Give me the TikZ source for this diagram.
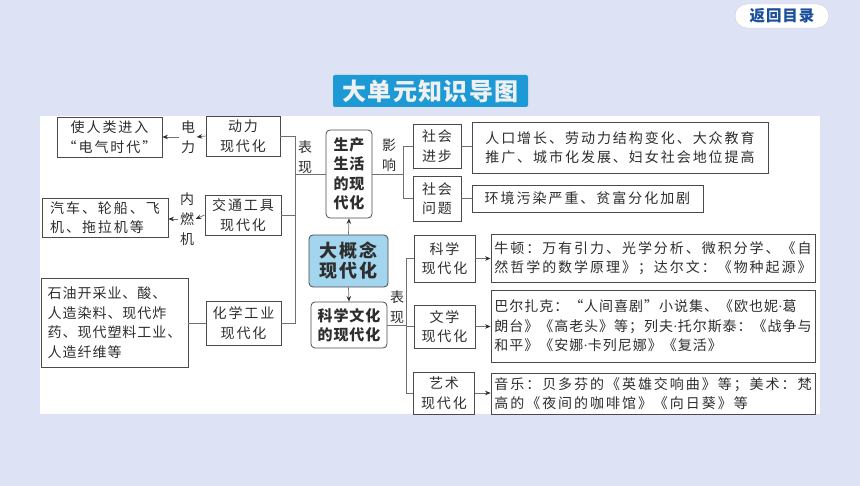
\documentclass[tikz,border=0pt]{standalone}
\usepackage{fontspec}
\usepackage{tikz}
\usetikzlibrary{arrows.meta}
\usepackage{xcolor}
\setmainfont{Noto Sans CJK SC}
\newfontfamily\cjk[LetterSpace=14]{Noto Sans CJK SC}
\newfontfamily\cjktight[LetterSpace=7]{Noto Sans CJK SC}
\newfontfamily\cjkkey[LetterSpace=6]{Noto Sans CJK SC}
\newfontfamily\cjkbig[LetterSpace=12]{Noto Sans CJK SC}
\newfontfamily\latindot{Liberation Serif}
\newcommand{\mdot}{{\latindot\textperiodcentered}}
\definecolor{pagebg}{HTML}{DDE3F4}
\definecolor{ink}{HTML}{2E2E2E}
\definecolor{boxline}{HTML}{4A4A4A}
\definecolor{linkgrey}{HTML}{707070}
\definecolor{keyblue}{HTML}{A3D6EE}
\definecolor{titleblue}{HTML}{1D9AD6}
\definecolor{navy}{HTML}{1B4F9C}
\tikzset{
  box/.style={draw=boxline,line width=0.8pt,fill=white,text=ink,inner sep=0pt,align=center,
    font=\cjk\fontsize{14}{19.5}\selectfont},
  tightbox/.style={box,align=left,font=\cjktight\fontsize{14}{19.5}\selectfont},
  keybox/.style={box,rounded corners=4pt,font=\cjkkey\bfseries\fontsize{15}{19.5}\selectfont},
  lbl/.style={text=ink,inner sep=1.5pt,align=center,font=\cjk\fontsize{14}{20}\selectfont},
  link/.style={draw=linkgrey,line width=0.7pt},
  arr/.style={link,-{Stealth[length=5.5pt,width=4.5pt,color=ink]}}
}

\begin{document}
\begin{tikzpicture}[x=1pt,y=-1pt]
\fill[pagebg] (0,0) rectangle (860,486);
\useasboundingbox (0,0) rectangle (860,486);
% return button and heading
\node[draw=black!20,fill=white,rounded corners=12pt,minimum width=94pt,minimum height=24pt,inner sep=0pt,
  text=navy,font=\cjkkey\bfseries\fontsize{15.5}{16}\selectfont] (back) at (782,16) {返回目录};
\node[fill=titleblue,rounded corners=2pt,minimum width=195pt,minimum height=32pt,inner sep=0pt,
  text=black!6,font=\cjkkey\bfseries\fontsize{24}{26}\selectfont] (heading) at (430.5,91) {大单元知识导图};
\fill[white] (40,116) rectangle (820,414);
% left column
\node[box,minimum width=105pt,minimum height=40pt] (dianqi) at (109.5,137) {使人类进入\\“电气时代”};
\node[lbl] (dianli) at (188,137) {电\\力};
\node[box,minimum width=74pt,minimum height=40pt] (dongli) at (243,136) {动力\\现代化};
\node[box,minimum width=126pt,minimum height=39pt,align=left] (qiche) at (105,217.5) {汽车、轮船、飞\\机、拖拉机等};
\node[lbl] (neiran) at (187,219) {内\\燃\\机};
\node[box,minimum width=76pt,minimum height=40pt] (jiaotong) at (243,215) {交通工具\\现代化};
\node[tightbox,minimum width=147pt,minimum height=89pt] (shiyou) at (114.5,322.5) {石油开采业、酸、\\人造染料、现代炸\\药、现代塑料工业、\\人造纤维等};
\node[box,minimum width=75pt,minimum height=44pt] (huaxue) at (243.5,323) {化学工业\\现代化};
\coordinate (spineL) at (295,0);
\node[lbl] (biaoxianA) at (305,157) {表\\现};
% centre
\node[keybox,minimum width=46pt,minimum height=88pt] (shengchan) at (349,174) {生产\\生活\\的现\\代化};
\node[keybox,fill=keyblue,minimum width=79pt,minimum height=52pt,
  font=\cjkbig\bfseries\fontsize{18}{20}\selectfont] (gainian) at (348.5,261) {大概念\\现代化};
\node[keybox,minimum width=76pt,minimum height=46pt] (kxwh) at (349,325) {科学文化\\的现代化};
\node[lbl] (yingxiang) at (389,155) {影\\响};
\node[lbl] (biaoxianB) at (397,307) {表\\现};
\coordinate (forkA) at (403,0);
\coordinate (forkB) at (406,0);
% right column
\node[box,minimum width=48pt,minimum height=44pt] (jinbu) at (437,146) {社会\\进步};
\node[box,minimum width=48pt,minimum height=45pt] (wenti) at (437,198.5) {社会\\问题};
\node[box,minimum width=296pt,minimum height=51pt,align=left] (renkou) at (620,147.5) {人口增长、劳动力结构变化、大众教育\\推广、城市化发展、妇女社会地位提高};
\node[box,minimum width=231pt,minimum height=27pt] (huanjing) at (587.5,198.5) {环境污染严重、贫富分化加剧};
\node[box,minimum width=61pt,minimum height=47pt] (kexue) at (444.5,258.5) {科学\\现代化};
\node[box,minimum width=61pt,minimum height=43pt] (wenxue) at (444.5,326.5) {文学\\现代化};
\node[box,minimum width=61pt,minimum height=42pt] (yishu) at (444,393) {艺术\\现代化};
\node[box,minimum width=324pt,minimum height=48pt,align=left] (niudun) at (653,258) {牛顿：万有引力、光学分析、微积分学、《自\\然哲学的数学原理》；达尔文：《物种起源》};
\node[tightbox,minimum width=324pt,minimum height=72pt] (bazha) at (653,326) {巴尔扎克：“人间喜剧”小说集、《欧也妮\mdot 葛\\朗台》《高老头》等；列夫\mdot 托尔斯泰：《战争与\\和平》《安娜\mdot 卡列尼娜》《复活》};
\node[box,minimum width=324pt,minimum height=41pt,align=left] (yinyue) at (653,393.5) {音乐：贝多芬的《英雄交响曲》等；美术：梵\\高的《夜间的咖啡馆》《向日葵》等};
% connectors
\draw[arr] (dongli.west) -- (dianli.east);
\draw[arr] (dianli.west) -- (dianqi.east);
\draw[arr] (jiaotong.west) -- (neiran.east);
\draw[arr] (neiran.west) -- (neiran.west -| qiche.east);
\draw[link] (huaxue.west) -- (huaxue.west -| shiyou.east);
\draw[link] (dongli.east) -| (spineL |- huaxue.east) -- (huaxue.east);
\draw[link] (jiaotong.east) -- (jiaotong.east -| spineL);
\draw[link] (shengchan.west) -- (shengchan.west -| spineL);
\draw[arr] (gainian.north) -- (shengchan.south);
\draw[arr] (gainian.south) -- (kxwh.north);
\draw[link] (shengchan.east) -- (shengchan.east -| forkA);
\draw[link] (jinbu.west) -| (forkA |- wenti.west) -- (wenti.west);
\draw[link] (jinbu.east) -- (jinbu.east -| renkou.west);
\draw[link] (wenti.east) -- (wenti.east -| huanjing.west);
\draw[link] (kxwh.east) -- (kxwh.east -| forkB);
\draw[link] (kexue.west) -| (forkB |- yishu.west) -- (yishu.west);
\draw[link] (wenxue.west) -- (wenxue.west -| forkB);
\draw[arr] (kexue.east) -- (kexue.east -| niudun.west);
\draw[arr] (wenxue.east) -- (wenxue.east -| bazha.west);
\draw[arr] (yishu.east) -- (yishu.east -| yinyue.west);
\end{tikzpicture}
\end{document}
